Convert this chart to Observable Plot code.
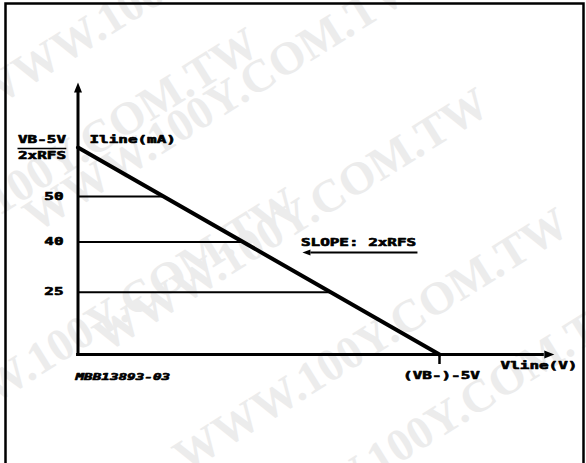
<!DOCTYPE html>
<html><head><meta charset="utf-8">
<script src="https://cdn.jsdelivr.net/npm/d3@7"></script>
<script src="https://cdn.jsdelivr.net/npm/@observablehq/plot@0.6"></script>
<style>
html,body{margin:0;padding:0;background:#fff;}
#wrap{position:relative;width:586px;height:463px;overflow:hidden;background:#fff;}
#wm{position:absolute;left:0;top:0;width:586px;height:463px;pointer-events:none;}
#wm span{position:absolute;white-space:nowrap;font-family:"Liberation Serif",serif;font-weight:bold;font-size:46px;line-height:1;color:#ececec;transform-origin:0 100%;transform:rotate(-32deg);}
#chart{position:absolute;left:0;top:0;}
</style></head><body>
<div id="wrap"><div id="wm"></div><div id="chart"></div></div>
<script>
// ---- data (schematic: current Iline vs voltage Vline) ----
const levels = [50, 40, 25];                 // Iline (mA) reference levels
const levelLabels = ["50", "40", "25"];
const levelEnds = [23.7, 45.7, 69.9];        // Vline where each level meets the slope line (0..100 = 0..(VB-)-5V)
const intercept = 62;                        // (VB-5V)/2xRFS on the Iline axis
const vEnd = 100;                            // (VB-)-5V on the Vline axis
const slopeLine = [{v: 0, i: intercept}, {v: vEnd, i: 0}];
const watermark = "WWW.100Y.COM.TW";
const wmRows = [[-10, 120], [40, 240], [110, 360], [190, 480], [-120, 300], [-80, 460], [260, 560]];

// the current axis of the schematic is not drawn to scale: piecewise mapping
// from Iline values to schematic axis units
const iAxis = d3.scaleLinear()
  .domain([0, 25, 40, 50, 62, 80])
  .range([0, 62.3, 112.5, 158, 207, 262]);

// watermark layer
const wm = document.getElementById("wm");
for (const [l, t] of wmRows) {
  const s = document.createElement("span");
  s.textContent = watermark;
  s.style.left = l + "px";
  s.style.top = (t - 46) + "px";
  wm.appendChild(s);
}

const font = {fontFamily: "DejaVu Sans Mono", fontWeight: "bold", fontSize: 10, fill: "black", stroke: "black", strokeWidth: 0.6};
const head = {draw(ctx) { ctx.moveTo(0, -10); ctx.lineTo(4, 0); ctx.lineTo(-4, 0); ctx.closePath(); }};
const headSmall = {draw(ctx) { ctx.moveTo(0, -8); ctx.lineTo(3, 0); ctx.lineTo(-3, 0); ctx.closePath(); }};
const Y = d => iAxis(d);

const chart = Plot.plot({
  width: 586,
  height: 463,
  margin: 0,
  style: {background: "transparent"},
  x: {domain: [0, 100], range: [77.5, 439], axis: null},
  y: {domain: [0, 262], range: [354, 92], axis: null},
  marks: [
    Plot.frame({stroke: "black", strokeWidth: 2.5, insetLeft: 5, insetTop: 3, insetRight: 3, insetBottom: -10}),
    // axes
    Plot.ruleX([0], {y1: Y(0), y2: Y(80), stroke: "black", strokeWidth: 3}),
    Plot.ruleY([Y(0)], {x1: -0.4, x2: 129, stroke: "black", strokeWidth: 3}),
    Plot.dot([80], {x: 0, y: Y, symbol: head, r: 5, fill: "black", stroke: null}),
    Plot.dot([0], {x: 129, y: Y, symbol: head, r: 5, rotate: 90, fill: "black", stroke: null}),
    Plot.ruleX([vEnd], {y1: Y(0), y2: -10, stroke: "black", strokeWidth: 2.5}),
    // level lines
    Plot.link(levels, {x1: 0, x2: (d, k) => levelEnds[k], y1: Y, y2: Y, stroke: "black", strokeWidth: 2}),
    // slope line
    Plot.line(slopeLine, {x: "v", y: d => Y(d.i), stroke: "black", strokeWidth: 4}),
    // y labels
    Plot.text(levels, {x: 0, y: Y, text: (d, k) => levelLabels[k], textAnchor: "end", dx: -14.5, ...font}),
    Plot.text([intercept], {x: 0, y: Y, text: ["VB-5V"], dx: -36, dy: -8, ...font}),
    Plot.ruleY([intercept], {y: Y, x1: -16.6, x2: -3.1, dy: 1, stroke: "black", strokeWidth: 1.5}),
    Plot.text([intercept], {x: 0, y: Y, text: ["2xRFS"], dx: -36, dy: 8.5, ...font}),
    Plot.text([intercept], {x: 0, y: Y, text: ["Iline(mA)"], textAnchor: "start", dx: 11.5, dy: -8, ...font}),
    // x labels
    Plot.text([vEnd], {x: d => d, y: Y(0), text: ["(VB-)-5V"], dx: 2, dy: 21, ...font}),
    Plot.text([0], {x: 116.9, y: Y, text: ["Vline(V)"], textAnchor: "start", dy: 11, ...font}),
    Plot.text([0], {x: 0, y: Y, text: ["MBB13893-03"], textAnchor: "start", dx: -2.5, dy: 23, ...font, fontSize: 9, fontStyle: "italic"}),
    // slope annotation
    Plot.text([40], {x: 77.6, y: Y, text: ["SLOPE: 2xRFS"], dy: 1, ...font}),
    Plot.link([40], {x1: 93.9, x2: 64.3, y1: Y, y2: Y, dy: 10.5, stroke: "black", strokeWidth: 2}),
    Plot.dot([40], {x: 64.3, y: Y, dy: 10.5, symbol: headSmall, r: 4, rotate: -90, fill: "black", stroke: null})
  ]
});

// stretch the glyphs to the wide plotter-style lettering of the original
const adv = {"MBB13893-03": 8.6};
d3.select(chart).selectAll("text").each(function() {
  const t = this.textContent;
  const a = adv[t] || 9.6;
  this.setAttribute("textLength", (t.length * a).toFixed(1));
  this.setAttribute("lengthAdjust", "spacingAndGlyphs");
});
document.getElementById("chart").appendChild(chart);
</script>
</body></html>
